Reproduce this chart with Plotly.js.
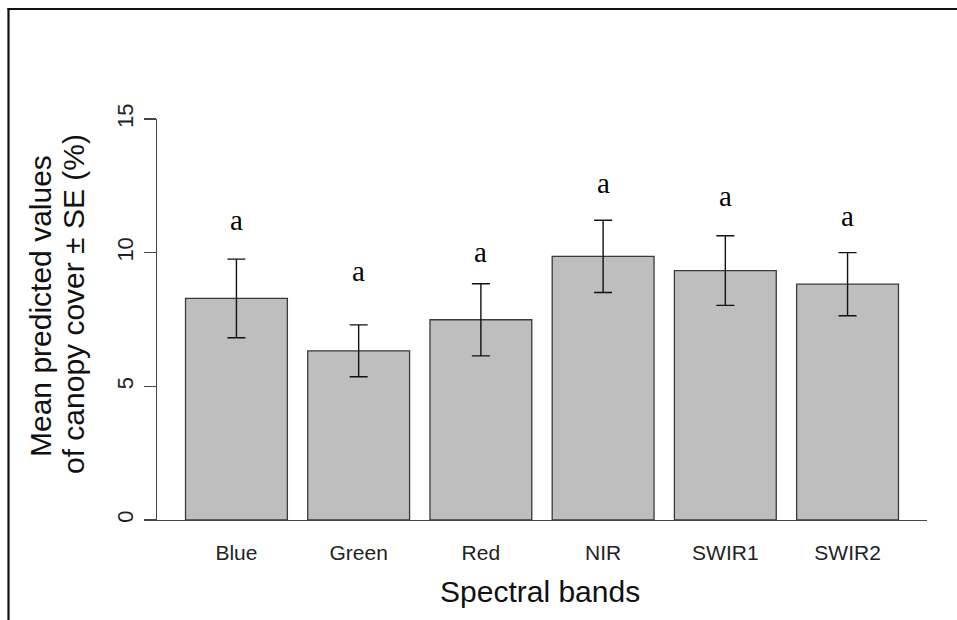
<!DOCTYPE html>
<html>
<head>
<meta charset="utf-8">
<script src="https://cdn.plot.ly/plotly-3.0.1.min.js"></script>
<style>html,body{margin:0;padding:0;background:#fff;}#chart{width:957px;height:620px;}</style>
</head>
<body>
<div id="chart"></div>
<script>
// Data
const bands = ["Blue", "Green", "Red", "NIR", "SWIR1", "SWIR2"];
const meanCover = [8.29, 6.33, 7.49, 9.86, 9.33, 8.82];
const seCover = [1.47, 0.97, 1.35, 1.35, 1.30, 1.18];
const groupLetters = ["a", "a", "a", "a", "a", "a"];
const letterHeights = [11.22, 9.33, 10.01, 12.59, 12.12, 11.39];
const yTicks = [0, 5, 10, 15];

const W = 957, H = 620;
const M = {l: 157, r: 30, t: 119, b: 100};
const plotW = W - M.l - M.r, plotH = H - M.t - M.b;
const px2x = p => (p - M.l) / plotW;
const py2y = p => (H - M.b - p) / plotH;

const trace = {
  type: "bar",
  x: bands,
  y: meanCover,
  width: 1 / 1.2,
  marker: {color: "#bebebe", line: {color: "#3a3a3a", width: 1.3}},
  error_y: {type: "data", array: seCover, visible: true, color: "#111", thickness: 1.4, width: 9},
  hoverinfo: "x+y"
};

const annotations = bands.map((b, i) => ({
  x: b, y: letterHeights[i], xref: "x", yref: "y",
  text: groupLetters[i], showarrow: false,
  xanchor: "center", yanchor: "middle",
  font: {family: "Liberation Serif, Times New Roman, serif", size: 29, color: "#000"}
}));

annotations.push({
  xref: "paper", yref: "paper", x: px2x(40), y: py2y(306),
  text: "Mean predicted values", textangle: -90, showarrow: false,
  xanchor: "center", yanchor: "middle",
  font: {family: "Liberation Sans, Arial, sans-serif", size: 30, color: "#111"}
});
annotations.push({
  xref: "paper", yref: "paper", x: px2x(73), y: py2y(304),
  text: "of canopy cover ± SE (%)", textangle: -90, showarrow: false,
  xanchor: "center", yanchor: "middle",
  font: {family: "Liberation Sans, Arial, sans-serif", size: 30, color: "#111"}
});
annotations.push({
  xref: "paper", yref: "paper", x: px2x(540), y: py2y(591),
  text: "Spectral bands", showarrow: false,
  xanchor: "center", yanchor: "middle",
  font: {family: "Liberation Sans, Arial, sans-serif", size: 30, color: "#111"}
});

const layout = {
  width: W, height: H,
  margin: M,
  paper_bgcolor: "#fff", plot_bgcolor: "#fff",
  showlegend: false,
  bargap: 0,
  xaxis: {
    type: "category", range: [-0.65, 5.65],
    showline: true, linecolor: "#444", linewidth: 1.3,
    showgrid: false, zeroline: false, ticks: "",
    tickfont: {family: "Liberation Sans, Arial, sans-serif", size: 21, color: "#222"},
    ticklabelstandoff: 13
  },
  yaxis: {
    range: [0, 15], tickvals: yTicks, ticktext: yTicks.map(String),
    showline: true, linecolor: "#444", linewidth: 1.3,
    showgrid: false, zeroline: false,
    ticks: "outside", ticklen: 12, tickwidth: 1.3, tickcolor: "#444",
    tickangle: -90,
    tickfont: {family: "Liberation Sans, Arial, sans-serif", size: 22, color: "#222"},
    ticklabelstandoff: 2
  },
  annotations: annotations,
  shapes: [
    {type: "line", xref: "paper", yref: "paper", x0: px2x(8.5), x1: px2x(8.5), y0: py2y(8), y1: py2y(630), line: {color: "#111", width: 2.2}},
    {type: "line", xref: "paper", yref: "paper", x0: px2x(7.5), x1: px2x(970), y0: py2y(9), y1: py2y(9), line: {color: "#111", width: 2.2}}
  ]
};

Plotly.newPlot("chart", [trace], layout, {staticPlot: true, displayModeBar: false});
</script>
</body>
</html>
